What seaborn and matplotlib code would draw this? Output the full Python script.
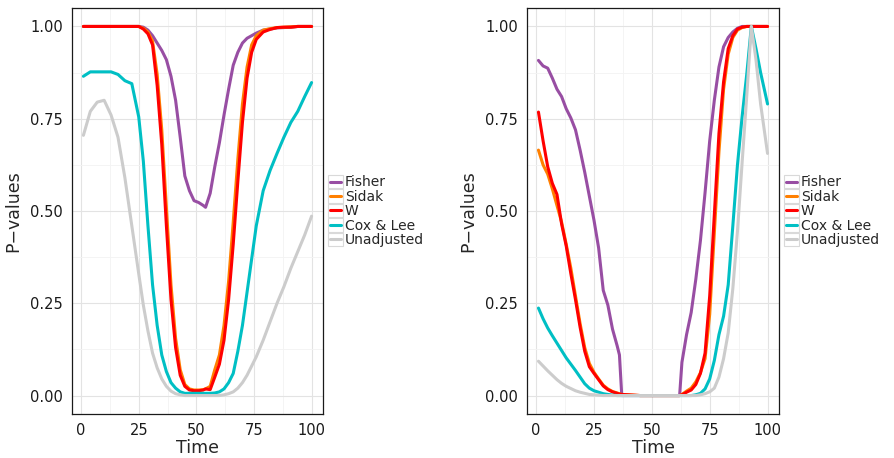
import pandas as pd
import seaborn as sns
import matplotlib.pyplot as plt
from matplotlib.lines import Line2D
from matplotlib.patches import Rectangle
from matplotlib.legend_handler import HandlerBase
from matplotlib.ticker import FormatStrFormatter

methods = ["Fisher", "Sidak", "W", "Cox & Lee", "Unadjusted"]
colors = {
    "Fisher": "#984EA3",
    "Sidak": "#FF7F00",
    "W": "#FF0000",
    "Cox & Lee": "#00BFC4",
    "Unadjusted": "#CCCCCC",
}

# left panel
time_left = [1, 4, 7, 10, 13, 16, 19, 22, 25, 27, 29, 31, 33, 35, 37, 39, 41, 43,
             45, 47, 49, 51, 53, 54, 56, 58, 60, 62, 64, 66, 68, 70, 72, 74, 76,
             79, 82, 85, 88, 91, 94, 97, 100]
fisher_left = [1.0, 1.0, 1.0, 1.0, 1.0, 1.0, 1.0, 1.0, 1.0,
               0.998, 0.99, 0.975, 0.955, 0.935, 0.91, 0.865, 0.80, 0.70,
               0.595, 0.555, 0.528, 0.523, 0.515, 0.51, 0.548, 0.62,
               0.685, 0.76, 0.83, 0.895, 0.93, 0.955, 0.968, 0.975, 0.982,
               0.99, 0.993, 0.996, 0.997, 0.998, 1.0, 1.0, 1.0]
sidak_left = [1.0, 1.0, 1.0, 1.0, 1.0, 1.0, 1.0, 1.0, 1.0,
              0.995, 0.985, 0.96, 0.87, 0.72, 0.51, 0.30, 0.155, 0.07,
              0.03, 0.018, 0.015, 0.015, 0.016, 0.018, 0.025, 0.07,
              0.11, 0.19, 0.31, 0.47, 0.64, 0.79, 0.89, 0.95, 0.975,
              0.99, 0.994, 0.997, 0.998, 0.999, 1.0, 1.0, 1.0]
w_left = [1.0, 1.0, 1.0, 1.0, 1.0, 1.0, 1.0, 1.0, 1.0,
          0.993, 0.98, 0.95, 0.84, 0.68, 0.46, 0.26, 0.13, 0.055,
          0.025, 0.015, 0.013, 0.013, 0.015, 0.018, 0.016, 0.05,
          0.085, 0.15, 0.26, 0.41, 0.58, 0.74, 0.86, 0.93, 0.965,
          0.985, 0.992, 0.997, 0.998, 0.998, 1.0, 1.0, 1.0]
cox_left = [0.865, 0.877, 0.877, 0.877, 0.877, 0.87, 0.853, 0.845, 0.755,
            0.635, 0.46, 0.30, 0.19, 0.11, 0.065, 0.035, 0.02, 0.01,
            0.006, 0.006, 0.006, 0.006, 0.006, 0.006, 0.006, 0.007,
            0.01, 0.018, 0.035, 0.06, 0.12, 0.19, 0.28, 0.37, 0.46,
            0.555, 0.61, 0.656, 0.70, 0.74, 0.77, 0.81, 0.848]
unadj_left = [0.705, 0.77, 0.795, 0.80, 0.76, 0.70, 0.59, 0.46, 0.33,
              0.245, 0.175, 0.115, 0.075, 0.045, 0.025, 0.012, 0.005, 0.002,
              0.0, 0.0, 0.0, 0.0, 0.0, 0.0, 0.0, 0.0,
              0.0, 0.002, 0.005, 0.01, 0.02, 0.035, 0.055, 0.08, 0.105,
              0.15, 0.2, 0.25, 0.295, 0.345, 0.39, 0.435, 0.486]

# right panel
time_right = [1, 3, 5, 7, 9, 11, 13, 15, 17, 19, 21, 23, 25, 27, 29, 31, 33, 35,
              36, 37, 45, 55, 62, 63, 65, 67, 69, 71, 73, 75, 77, 79, 81, 83,
              85, 87, 89, 91, 93, 95, 97, 100]
fisher_right = [0.908, 0.893, 0.887, 0.86, 0.83, 0.81, 0.777, 0.752, 0.72,
                0.665, 0.605, 0.54, 0.475, 0.40, 0.285, 0.245, 0.18, 0.135,
                0.11, 0.0, 0.0, 0.0, 0.0, 0.09, 0.165, 0.225, 0.315, 0.42,
                0.55, 0.69, 0.80, 0.89, 0.945, 0.97, 0.985, 0.995, 1.0, 1.0,
                1.0, 1.0, 1.0, 1.0]
sidak_right = [0.665, 0.625, 0.60, 0.56, 0.515, 0.47, 0.41, 0.345, 0.27,
               0.195, 0.13, 0.087, 0.063, 0.045, 0.028, 0.018, 0.011, 0.007,
               0.005, 0.003, 0.0, 0.0, 0.0, 0.003, 0.012, 0.02, 0.037, 0.062,
               0.10, 0.22, 0.44, 0.66, 0.83, 0.925, 0.97, 0.99, 0.997, 1.0,
               1.0, 1.0, 1.0, 1.0]
w_right = [0.768, 0.69, 0.62, 0.575, 0.545, 0.465, 0.405, 0.33, 0.26,
           0.185, 0.12, 0.078, 0.06, 0.043, 0.026, 0.016, 0.01, 0.006,
           0.004, 0.003, 0.0, 0.0, 0.0, 0.002, 0.009, 0.015, 0.03, 0.06,
           0.115, 0.27, 0.49, 0.71, 0.85, 0.94, 0.975, 0.993, 0.998, 1.0,
           1.0, 1.0, 1.0, 1.0]
cox_right = [0.237, 0.208, 0.183, 0.162, 0.142, 0.122, 0.102, 0.085, 0.068,
             0.05, 0.032, 0.02, 0.013, 0.009, 0.005, 0.003, 0.001, 0.0,
             0.0, 0.0, 0.0, 0.0, 0.0, 0.0, 0.0, 0.0, 0.002, 0.006,
             0.018, 0.045, 0.095, 0.165, 0.215, 0.30, 0.46, 0.625, 0.755, 0.87,
             1.0, 0.94, 0.875, 0.79]
unadj_right = [0.093, 0.08, 0.067, 0.055, 0.043, 0.033, 0.025, 0.019, 0.013,
               0.009, 0.006, 0.003, 0.002, 0.001, 0.0, 0.0, 0.0, 0.0,
               0.0, 0.0, 0.0, 0.0, 0.0, 0.0, 0.0, 0.0, 0.0, 0.002,
               0.005, 0.01, 0.02, 0.05, 0.1, 0.17, 0.29, 0.445, 0.63, 0.81,
               1.0, 0.91, 0.79, 0.656]


def long_frame(time, series):
    parts = []
    for name, vals in zip(methods, series):
        parts.append(pd.DataFrame({"Time": time, "P": vals, "Method": name}))
    return pd.concat(parts, ignore_index=True)


df_left = long_frame(time_left, [fisher_left, sidak_left, w_left, cox_left, unadj_left])
df_right = long_frame(time_right, [fisher_right, sidak_right, w_right, cox_right, unadj_right])


class KeyHandler(HandlerBase):
    # ggplot-like legend key: small bordered box with a line inside
    def create_artists(self, legend, orig_handle, xdescent, ydescent,
                       width, height, fontsize, trans):
        box = Rectangle((-xdescent, -ydescent), width, height, facecolor="white",
                        edgecolor="#d9d9d9", lw=0.8, transform=trans)
        y = -ydescent + height / 2
        line = Line2D([-xdescent + width * 0.12, -xdescent + width * 0.88], [y, y],
                      color=orig_handle.get_color(), lw=2.2, transform=trans)
        return [box, line]


sns.set_style("white")
plt.rcParams["font.family"] = ["DejaVu Sans"]

fig = plt.figure(figsize=(8.94, 4.58), dpi=100)
ax1 = fig.add_axes([72 / 894, 44 / 458, 251 / 894, 406 / 458])
ax2 = fig.add_axes([527 / 894, 44 / 458, 252 / 894, 406 / 458])

for ax, df in [(ax1, df_left), (ax2, df_right)]:
    sns.lineplot(data=df, x="Time", y="P", hue="Method", hue_order=methods,
                 palette=colors, linewidth=2.2, ax=ax, legend=False,
                 errorbar=None)
    ax.set_xlim(-3.95, 104.95)
    ax.set_ylim(-0.05, 1.05)
    ax.set_xticks([0, 25, 50, 75, 100])
    ax.set_xticks([12.5, 37.5, 62.5, 87.5], minor=True)
    ax.set_yticks([0, 0.25, 0.5, 0.75, 1.0])
    ax.set_yticks([0.125, 0.375, 0.625, 0.875], minor=True)
    ax.yaxis.set_major_formatter(FormatStrFormatter("%.2f"))
    ax.grid(True, which="major", color="#e3e3e3", lw=0.8)
    ax.grid(True, which="minor", color="#f3f3f3", lw=0.6)
    ax.set_axisbelow(True)
    for s in ax.spines.values():
        s.set_color("#1a1a1a")
        s.set_linewidth(0.9)
    ax.tick_params(which="major", length=3.5, width=0.8, color="#333333",
                   labelsize=10.5, labelcolor="#1a1a1a", pad=3)
    ax.tick_params(which="minor", length=0)
    ax.set_xlabel("Time", fontsize=12.5, labelpad=1)
    ax.set_ylabel("P\u2212values", fontsize=12.5, labelpad=6)

    handles = [Line2D([], [], color=colors[m]) for m in methods]
    ax.legend(handles, methods, handler_map={Line2D: KeyHandler()},
              loc="center left", bbox_to_anchor=(1.0, 0.5), frameon=False,
              fontsize=10, handlelength=1.08, handleheight=1.1,
              handletextpad=0.15, labelspacing=0.0, borderpad=0.0,
              borderaxespad=0.35)

fig.savefig("out.png", dpi=100)
